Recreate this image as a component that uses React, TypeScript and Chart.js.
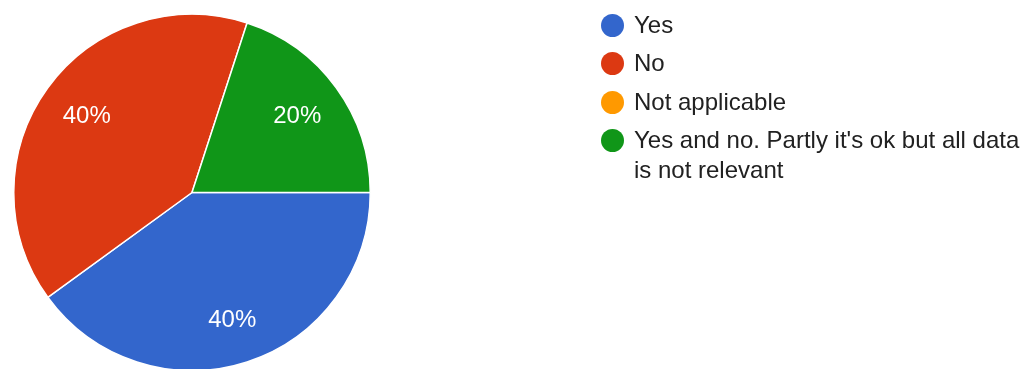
import React, { useEffect, useRef } from "react";
import { Chart, registerables } from "chart.js";

Chart.register(...registerables);

const categories = ["Yes", "No", "Not applicable", "Yes and no. Partly it's ok but all data is not relevant"];
const values = [40, 40, 0, 20];
const colors = ["#3366cc", "#dc3912", "#ff9900", "#109618"];

const FONT = "'Liberation Sans', Arial, sans-serif";

const sliceLabels = {
  id: "sliceLabels",
  afterDatasetsDraw(chart: any) {
    const ctx = chart.ctx;
    const meta = chart.getDatasetMeta(0);
    const data = chart.data.datasets[0].data as number[];
    const total = data.reduce((a, b) => a + b, 0);
    ctx.save();
    ctx.fillStyle = "#ffffff";
    ctx.font = `24px ${FONT}`;
    ctx.textAlign = "center";
    ctx.textBaseline = "middle";
    meta.data.forEach((arc: any, i: number) => {
      const v = data[i];
      if (!v) return;
      const p = arc.getProps(["x", "y", "startAngle", "endAngle", "outerRadius"], true);
      const mid = (p.startAngle + p.endAngle) / 2;
      const r = p.outerRadius * 0.73;
      const s = Math.sin(mid);
      ctx.fillText(`${Math.round((v / total) * 100)}%`, p.x + Math.cos(mid) * r, p.y + s * r + 2 + 2 * s);
    });
    ctx.restore();
  },
};

export default function App() {
  const ref = useRef<HTMLCanvasElement>(null);
  useEffect(() => {
    const chart = new Chart(ref.current!, {
      type: "pie",
      data: {
        labels: categories,
        datasets: [
          {
            data: values,
            backgroundColor: colors,
            borderColor: "#ffffff",
            borderWidth: 1.5,
          },
        ],
      },
      options: {
        animation: false,
        responsive: false,
        rotation: 90,
        layout: { padding: { left: 13, top: 13.5, right: 665, bottom: 8.5 } },
        plugins: {
          legend: { display: false },
          tooltip: { enabled: false },
        },
      },
      plugins: [sliceLabels],
    });
    return () => chart.destroy();
  }, []);

  const rows = [25, 63, 102, 140];
  return (
    <div style={{ position: "fixed", left: 0, top: 0, width: 1036, height: 369, overflow: "hidden", background: "#fff" }}>
      <canvas ref={ref} width={1036} height={380} style={{ position: "absolute", left: 0, top: 0 }} />
      {categories.map((c, i) => (
        <div key={c}>
          <div
            style={{
              position: "absolute",
              left: 612 - 11.5,
              top: rows[i] - 11.5,
              width: 23,
              height: 23,
              borderRadius: "50%",
              background: colors[i],
            }}
          />
          <div
            style={{
              position: "absolute",
              left: 634,
              top: rows[i] - 15,
              width: 392,
              fontFamily: FONT,
              fontSize: 24,
              lineHeight: "30px",
              color: "#212121",
            }}
          >
            {c}
          </div>
        </div>
      ))}
    </div>
  );
}
